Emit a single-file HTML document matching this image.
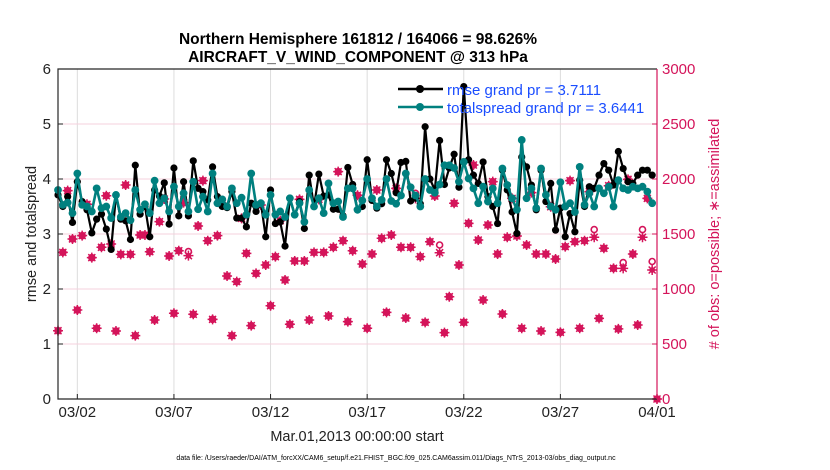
<!DOCTYPE html>
<html><head><meta charset="utf-8"><style>
html,body{margin:0;padding:0;background:#fff;}
svg{display:block;font-family:"Liberation Sans",Arial,sans-serif;}
</style></head><body>
<svg id="chart" width="830" height="470" viewBox="0 0 830 470">
<text x="358" y="44" text-anchor="middle" font-size="15.5" font-weight="bold" fill="#000">Northern Hemisphere 161812 / 164066 = 98.626%</text>
<text x="358" y="62" text-anchor="middle" font-size="15.5" font-weight="bold" fill="#000">AIRCRAFT_V_WIND_COMPONENT @ 313 hPa</text>
<g id="grid"></g>
<g id="marks"></g>
<g id="axes"></g>
<text transform="translate(36,234) rotate(-90)" text-anchor="middle" font-size="14.5" fill="#222">rmse and totalspread</text>
<text transform="translate(719,234) rotate(-90)" text-anchor="middle" font-size="14.5" fill="#d4145a"># of obs: o=possible; ∗=assimilated</text>
<text x="357" y="441" text-anchor="middle" font-size="14.5" fill="#222">Mar.01,2013 00:00:00 start</text>
<text x="396" y="460" text-anchor="middle" font-size="7" fill="#000">data file: /Users/raeder/DAI/ATM_forcXX/CAM6_setup/f.e21.FHIST_BGC.f09_025.CAM6assim.011/Diags_NTrS_2013-03/obs_diag_output.nc</text>
<g id="legend"></g>
</svg>
<script>
const xTickLabels = ["03/02","03/07","03/12","03/17","03/22","03/27","04/01"];
const xTickDays = [1,6,11,16,21,26,31];
const leftTicks = [0,1,2,3,4,5,6];
const rightTicks = [0,500,1000,1500,2000,2500,3000];
const rmse = [3.71,3.5,3.68,3.21, 3.95,3.59,3.44,3.02, 3.27,3.36,3.09,2.72, 3.71,3.27,3.24,2.9, 4.25,3.36,3.5,2.95, 3.8,3.69,3.93,3.18, 4.2,3.33,3.95,3.33, 4.33,3.83,3.77,3.62, 4.22,3.68,3.5,3.48, 3.77,3.29,3.29,3.13, 3.56,3.41,3.56,2.95, 3.8,3.19,3.22,2.78, 3.65,3.35,3.59,3.1, 4.07,3.5,4.09,3.69, 3.71,3.45,3.45,3.33, 4.21,3.9,3.44,3.5, 4.35,3.61,3.47,3.55, 4.35,4.1,3.75,4.3, 4.32,3.6,3.65,3.55, 4.95,4.0,3.8,4.7, 3.9,4.2,4.45,3.85, 5.68,4.35,4.07,3.92, 4.31,3.68,3.5,3.19, 4.16,3.8,3.4,3.01, 4.4,4.22,3.89,3.44, 4.16,3.59,3.92,3.07, 3.47,2.95,3.37,3.04, 3.98,3.5,3.86,3.83, 4.07,4.28,4.16,3.89, 4.5,4.19,3.95,3.92, 4.07,4.16,4.16,4.07];
const spread = [3.8,3.53,3.57,3.38, 4.1,3.53,3.5,3.41, 3.83,3.47,3.5,3.29, 3.71,3.31,3.38,3.25, 3.8,3.44,3.54,3.38, 3.97,3.56,3.65,3.41, 3.86,3.5,3.74,3.41, 3.95,3.45,3.68,3.41, 4.1,3.56,3.63,3.5, 3.83,3.56,3.66,3.35, 4.1,3.53,3.56,3.35, 3.71,3.35,3.41,3.31, 3.65,3.35,3.56,3.22, 3.8,3.5,3.65,3.38, 3.92,3.56,3.59,3.31, 3.83,3.83,3.44,3.61, 4.0,3.65,3.5,3.62, 4.0,3.6,3.55,3.7, 4.1,3.85,3.7,3.5, 4.0,3.8,3.75,3.9, 4.25,4.25,4.2,3.95, 4.31,4.01,3.83,3.56, 3.86,3.59,3.83,3.56, 4.19,3.89,3.65,3.44, 4.71,3.65,3.83,3.47, 4.19,3.71,3.5,3.44, 3.94,3.5,3.56,3.4, 4.22,3.53,3.74,3.5, 3.83,3.74,3.86,3.5, 3.98,3.83,3.8,3.86, 3.83,3.86,3.77,3.56];
const obsAssim = [621,1333,1894,1455, 809,1485,1770,1285, 643,1379,1848,1409, 618,1315,1945,1315, 576,1491,1491,1339, 718,1612,1818,1300, 779,1348,1785,1303, 770,1573,1985,1439, 724,1485,1779,1118, 576,1067,1642,1324, 667,1142,1764,1218, 848,1294,1621,1082, 679,1255,1815,1255, 718,1333,1815,1333, 755,1379,2067,1439, 703,1348,1852,1227, 643,1318,1900,1461, 788,1491,1915,1379, 736,1379,1824,1294, 697,1430,1845,1330, 603,930,1779,1218, 697,1597,2127,1445, 900,1582,1976,1318, 773,1470,1824,1482, 643,1400,1876,1318, 618,1318,1748,1273, 606,1385,1985,1430, 643,1439,1885,1470, 733,1370,1939,1188, 637,1188,1997,1318, 673,1470,1824,1173, 0];
const obsPossible = [621,1333,1894,1455, 809,1485,1770,1285, 643,1379,1848,1409, 618,1315,1945,1315, 576,1491,1491,1339, 718,1612,1818,1300, 779,1348,1785,1340, 770,1573,1985,1439, 724,1485,1779,1118, 576,1067,1642,1324, 667,1142,1764,1218, 848,1294,1621,1082, 679,1255,1815,1255, 718,1333,1815,1333, 755,1379,2067,1439, 703,1348,1852,1227, 643,1318,1900,1461, 788,1491,1915,1379, 736,1379,1870,1294, 697,1430,1845,1400, 603,930,1779,1218, 697,1597,2127,1445, 900,1582,1976,1318, 773,1470,1824,1482, 643,1400,1876,1318, 618,1318,1748,1273, 606,1385,1985,1430, 643,1439,1885,1540, 733,1370,1939,1188, 637,1240,1997,1318, 673,1540,1824,1250, 0];

const NS="http://www.w3.org/2000/svg";
const X0=58, X1=657, Y0=399, Y1=69, DAYS=31;
const xs=d=>X0+(X1-X0)*d/DAYS;
const yL=v=>Y0-(Y0-Y1)*v/6;
const yR=v=>Y0-(Y0-Y1)*v/3000;
const PINK="#d4145a", TEAL="#00807f";
function mk(tag,attrs,parent){const e=document.createElementNS(NS,tag);for(const k in attrs)e.setAttribute(k,attrs[k]);parent.appendChild(e);return e;}
const grid=document.getElementById('grid'),marks=document.getElementById('marks'),axes=document.getElementById('axes'),legend=document.getElementById('legend');

xTickDays.forEach((d,i)=>{
  const g=mk('line',{x1:xs(d),x2:xs(d),y1:Y1,y2:Y0,stroke:"#dcdcdc","stroke-width":1},grid);
  
  
  const t=mk('line',{x1:xs(d),x2:xs(d),y1:Y0,y2:Y0-5,stroke:"#222","stroke-width":1},axes);
  
  
  const l=mk('text',{x:xs(d),y:Y0+18,"text-anchor":"middle","font-size":15,fill:"#222"},axes);
  l.textContent=xTickLabels[i];
  
  
});
rightTicks.forEach(v=>{
  if(v>0&&v<3000){const g=mk('line',{x1:X0,x2:X1,y1:yR(v),y2:yR(v),stroke:"#f5d0dd","stroke-width":1},grid);
  
  }
  const t=mk('line',{x1:X1,x2:X1-5,y1:yR(v),y2:yR(v),stroke:PINK,"stroke-width":1},axes);
  
  
  const l=mk('text',{x:X1+5,y:yR(v)+5,"font-size":15,fill:PINK},axes);
  l.textContent=v;
  
  
});
leftTicks.forEach(v=>{
  const t=mk('line',{x1:X0,x2:X0+5,y1:yL(v),y2:yL(v),stroke:"#222","stroke-width":1},axes);
  
  
  const l=mk('text',{x:X0-7,y:yL(v)+5,"text-anchor":"end","font-size":15,fill:"#222"},axes);
  l.textContent=v;
  
  
});
let a=mk('path',{d:`M${X1},${Y1}H${X0}V${Y0}H${X1}`,fill:"none",stroke:"#262626","stroke-width":1.2},axes);


a=mk('line',{x1:X1,x2:X1,y1:Y1,y2:Y0,stroke:PINK,"stroke-width":1.2},axes);



obsPossible.forEach((v,i)=>{
  const c=mk('circle',{cx:xs(i/4),cy:yR(v),r:3,fill:"none",stroke:PINK,"stroke-width":1.6},marks);
  
  
});
obsAssim.forEach((v,i)=>{
  const x=xs(i/4),y=yR(v);
  const g=mk('g',{},marks);
  
  
  mk('circle',{cx:x,cy:y,r:2.8,fill:PINK},g);
  mk('path',{d:`M${x-5},${y}H${x+5}M${x},${y-5}V${y+5}M${x-3.5},${y-3.5}L${x+3.5},${y+3.5}M${x-3.5},${y+3.5}L${x+3.5},${y-3.5}`,stroke:PINK,"stroke-width":1.5},g);
});
function series(vals,color,name,r,w){
  const p=vals.map((v,i)=>`${i?'L':'M'}${xs(i/4).toFixed(1)},${yL(v).toFixed(1)}`).join('');
  const l=mk('path',{d:p,fill:"none",stroke:color,"stroke-width":w,"stroke-linejoin":"round"},marks);
  
  
  vals.forEach((v,i)=>{
    const c=mk('circle',{cx:xs(i/4),cy:yL(v),r:r,fill:color},marks);
    
    
  });
}
series(rmse,"#000","rmse",3.6,2.2);
series(spread,TEAL,"totalspread",3.9,2.6);

[["#000","rmse grand pr = 3.7111",89],[TEAL,"totalspread grand pr = 3.6441",107]].forEach(([c,t,y])=>{
  const g=mk('g',{},legend);
  
  
  mk('line',{x1:398,x2:443,y1:y,y2:y,stroke:c,"stroke-width":2.5},g);
  mk('circle',{cx:420,cy:y,r:4,fill:c},g);
  const tx=mk('text',{x:447,y:y+6,"font-size":15,fill:"#1a4dff"},g);
  tx.textContent=t;
});
</script>
</body></html>
